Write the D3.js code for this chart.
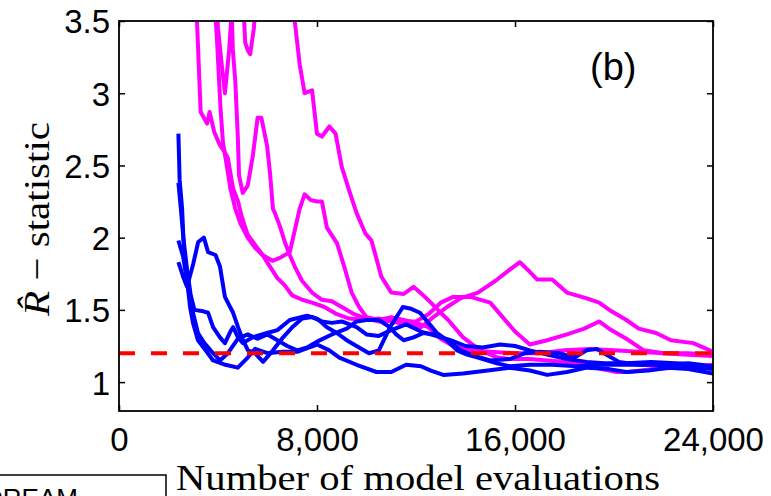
<!DOCTYPE html>
<html>
<head>
<meta charset="utf-8">
<script src="https://cdn.jsdelivr.net/npm/d3@7"></script>
<style>
  body { margin: 0; background: #fff; }
  svg { display: block; }
</style>
</head>
<body>
<svg id="chart" width="771" height="496"></svg>
<script>
// x in thousands of model evaluations, y = R-hat
var blue1 = [[2.4,2.72],[2.45,2.4],[2.55,2.2],[2.62,1.93],[2.75,1.71],[2.87,1.52],[2.99,1.41],[3.19,1.29],[3.5,1.22],[3.8,1.15],[4.3,1.12],[4.8,1.1],[5.2,1.17],[5.5,1.23],[6.0,1.2],[6.6,1.21],[7.2,1.21],[8.0,1.26],[8.5,1.22],[8.9,1.17],[9.6,1.12],[10.4,1.07],[11.0,1.07],[11.6,1.12],[12.2,1.11],[12.6,1.08],[13.1,1.05],[13.9,1.06],[14.9,1.08],[15.8,1.1],[16.6,1.08],[17.3,1.05],[18.1,1.07],[18.9,1.1],[19.8,1.09],[20.5,1.07],[21.4,1.08],[22.2,1.1],[23,1.09],[24,1.06]];
var blue2 = [[2.4,2.38],[2.5,2.2],[2.6,2.0],[2.75,1.78],[2.9,1.6],[3.05,1.5],[3.4,1.49],[3.6,1.48],[3.8,1.38],[4.08,1.31],[4.28,1.27],[4.5,1.35],[4.61,1.38],[4.81,1.31],[5.0,1.27],[5.4,1.31],[5.98,1.34],[6.4,1.36],[6.9,1.43],[7.6,1.46],[8.0,1.44],[8.4,1.38],[8.8,1.34],[9.2,1.29],[9.7,1.24],[10.1,1.2],[10.5,1.22],[10.95,1.38],[11.47,1.52],[11.76,1.51],[12.16,1.48],[12.5,1.41],[12.85,1.34],[13.25,1.29],[13.66,1.22],[14.06,1.19],[14.5,1.17],[15.27,1.13],[15.8,1.11],[16.6,1.12],[17.5,1.12],[18.5,1.11],[19.5,1.12],[20.5,1.12],[21.5,1.12],[22.5,1.11],[23.3,1.1],[24,1.09]];
var blue3 = [[2.4,1.98],[2.59,1.87],[2.8,1.64],[2.99,1.48],[3.19,1.34],[3.45,1.27],[3.7,1.22],[4.08,1.15],[4.4,1.2],[4.8,1.3],[5.2,1.33],[5.6,1.3],[6.0,1.33],[6.4,1.29],[6.8,1.25],[7.2,1.22],[7.6,1.24],[8.0,1.28],[8.6,1.33],[9.2,1.37],[9.6,1.42],[10.0,1.43],[10.5,1.43],[10.95,1.38],[11.2,1.33],[11.5,1.29],[11.9,1.31],[12.3,1.34],[12.8,1.33],[13.3,1.29],[13.8,1.22],[14.4,1.18],[15.0,1.15],[15.8,1.16],[16.4,1.2],[17.0,1.21],[17.8,1.2],[18.4,1.17],[18.9,1.22],[19.3,1.23],[19.7,1.19],[20.2,1.14],[21,1.12],[22,1.12],[23,1.13],[24,1.11]];
var blue4 = [[2.4,1.83],[2.59,1.73],[2.75,1.66],[3.0,1.82],[3.2,1.97],[3.43,2.0],[3.6,1.9],[3.9,1.88],[4.08,1.8],[4.28,1.59],[4.61,1.48],[4.81,1.38],[5.01,1.29],[5.21,1.22],[5.5,1.2],[5.82,1.14],[6.22,1.22],[6.63,1.31],[7.0,1.38],[7.4,1.44],[7.8,1.45],[8.2,1.42],[8.6,1.41],[9.0,1.42],[9.6,1.38],[10.0,1.33],[10.5,1.32],[11.0,1.36],[11.6,1.4],[12.2,1.35],[12.8,1.32],[13.4,1.29],[14.0,1.25],[14.7,1.24],[15.4,1.26],[16.0,1.25],[16.6,1.22],[17.3,1.19],[18.1,1.16],[18.9,1.14],[19.6,1.13],[20.5,1.13],[21.5,1.14],[22.5,1.13],[23.3,1.12],[24,1.1]];

var pink1 = [[2.4,4.5],[3.0,3.9],[3.15,3.5],[3.3,2.87],[3.56,2.79],[3.66,2.87],[3.85,2.73],[4.08,2.64],[4.28,2.59],[4.4,2.55],[4.61,2.34],[4.81,2.25],[4.95,2.15],[5.2,2.02],[5.5,1.95],[5.8,1.88],[6.1,1.8],[6.4,1.72],[6.7,1.67],[7.0,1.6],[7.4,1.57],[7.8,1.55],[8.3,1.52],[8.8,1.47],[9.3,1.44],[10.0,1.43],[10.5,1.44],[11.0,1.42],[11.6,1.4],[12.2,1.38],[12.7,1.45],[13.25,1.52],[13.8,1.58],[14.5,1.62],[15.2,1.7],[15.8,1.78],[16.2,1.83],[16.5,1.78],[16.9,1.71],[17.5,1.71],[18.1,1.62],[18.9,1.58],[19.4,1.55],[19.9,1.49],[20.5,1.43],[21.0,1.37],[21.7,1.34],[22.3,1.29],[23.2,1.27],[24,1.21]];
var pink2 = [[2.4,4.5],[3.9,3.7],[4.0,3.45],[4.15,3.2],[4.28,3.0],[4.45,3.3],[4.57,3.6],[4.8,3.9],[5.0,3.7],[5.1,3.35],[5.2,3.3],[5.3,3.27],[5.45,3.45],[5.55,3.7],[6.5,4.2],[6.9,3.8],[7.1,3.5],[7.3,3.2],[7.5,3.0],[7.8,3.02],[8.0,2.72],[8.2,2.7],[8.5,2.77],[8.75,2.72],[9.0,2.49],[9.33,2.31],[9.6,2.17],[9.95,2.03],[10.2,1.98],[10.6,1.73],[11.0,1.62],[11.5,1.61],[11.9,1.66],[12.3,1.6],[12.6,1.55],[13.0,1.48],[13.3,1.43],[13.9,1.31],[14.6,1.22],[15.3,1.17],[15.8,1.16],[16.6,1.16],[17.3,1.15],[18.1,1.14],[18.9,1.12],[19.5,1.09],[20.1,1.07],[20.6,1.07],[21.5,1.09],[22.5,1.1],[23.3,1.11],[24,1.12]];
var pink3 = [[2.4,4.5],[4.55,3.6],[4.6,3.3],[4.7,3.08],[4.8,2.7],[4.85,2.43],[5.0,2.31],[5.2,2.36],[5.41,2.57],[5.6,2.83],[5.75,2.83],[5.98,2.64],[6.1,2.45],[6.22,2.2],[6.3,2.17],[6.5,2.08],[6.7,1.97],[6.9,1.88],[7.1,1.8],[7.4,1.7],[7.8,1.62],[8.2,1.57],[8.6,1.56],[9.0,1.52],[9.5,1.47],[10.0,1.44],[10.5,1.42],[11.0,1.43],[11.5,1.42],[12.0,1.42],[12.5,1.47],[13.0,1.55],[13.5,1.59],[14.2,1.59],[15.0,1.55],[15.5,1.45],[16.0,1.35],[16.6,1.26],[17.3,1.29],[18.1,1.33],[18.8,1.37],[19.4,1.42],[19.8,1.37],[20.5,1.3],[21.2,1.22],[22.0,1.2],[23,1.19],[24,1.18]];
var pink4 = [[2.4,4.5],[3.8,3.8],[3.95,3.4],[4.1,2.9],[4.2,2.66],[4.4,2.45],[4.5,2.34],[4.7,2.2],[4.9,2.1],[5.2,2.0],[5.5,1.93],[5.8,1.88],[6.2,1.84],[6.5,1.86],[6.9,1.9],[7.1,2.05],[7.3,2.2],[7.5,2.3],[7.75,2.26],[8.0,2.25],[8.2,2.25],[8.4,2.07],[8.81,1.96],[9.1,1.8],[9.4,1.62],[9.7,1.52],[10.0,1.45],[10.5,1.43],[11.0,1.45],[11.5,1.43],[12.0,1.41],[12.5,1.38],[13.0,1.3],[13.5,1.25],[14.2,1.22],[15,1.21],[16,1.2],[17,1.2],[18,1.22],[19,1.23],[20,1.22],[21,1.21],[22,1.2],[23,1.2],[24,1.19]];

var blueRuns = [blue1, blue2, blue3, blue4];
var pinkRuns = [pink1, pink2, pink3, pink4];
var threshold = 1.2;

var xTicks = [0, 8000, 16000, 24000];
var yTicks = [1, 1.5, 2, 2.5, 3, 3.5];
var xLabel = "Number of model evaluations";
var panelTag = "(b)";
var legendText = "DREAM";

var svg = d3.select("#chart");
var margin = {top: 21, right: 58, bottom: 85, left: 119},
    width = 771 - margin.left - margin.right,
    height = 496 - margin.top - margin.bottom;

var x = d3.scaleLinear().domain([0, 24000]).range([margin.left, margin.left + width]);
var y = d3.scaleLinear().domain([0.8, 3.5]).range([margin.top + height, margin.top]);

svg.append("rect").attr("width", 771).attr("height", 496).attr("fill", "#fff");

svg.append("clipPath").attr("id", "plotClip")
    .append("rect")
    .attr("x", margin.left).attr("y", margin.top)
    .attr("width", width).attr("height", height);

var line = d3.line()
    .x(function(d){ return x(d[0] * 1000); })
    .y(function(d){ return y(d[1]); });

var plot = svg.append("g").attr("clip-path", "url(#plotClip)");

plot.selectAll("path.pink").data(pinkRuns).enter()
    .append("path")
    .attr("class", "pink")
    .attr("d", line)
    .attr("fill", "none")
    .attr("stroke", "#ff00ff")
    .attr("stroke-width", 4)
    .attr("stroke-linejoin", "round");

plot.selectAll("path.blue").data(blueRuns).enter()
    .append("path")
    .attr("class", "blue")
    .attr("d", line)
    .attr("fill", "none")
    .attr("stroke", "#0000ff")
    .attr("stroke-width", 4)
    .attr("stroke-linejoin", "round");

plot.append("line")
    .attr("x1", x(0)).attr("x2", x(24000))
    .attr("y1", y(threshold)).attr("y2", y(threshold))
    .attr("stroke", "#ff0000")
    .attr("stroke-width", 4)
    .attr("stroke-dasharray", "16,16");

// axes, ticks point inwards
var fontAxis = "'Liberation Sans', Arial, sans-serif";

var gx = svg.append("g")
    .attr("transform", "translate(0," + (margin.top + height) + ")")
    .call(d3.axisBottom(x).tickValues(xTicks).tickSize(-6).tickPadding(17)
        .tickFormat(d3.format(",")));
var gxTop = svg.append("g")
    .attr("transform", "translate(0," + margin.top + ")")
    .call(d3.axisTop(x).tickValues(xTicks).tickSize(-6).tickFormat(""));
var gy = svg.append("g")
    .attr("transform", "translate(" + margin.left + ",0)")
    .call(d3.axisLeft(y).tickValues(yTicks).tickSize(-6).tickPadding(9)
        .tickFormat(function(d){ return d; }));
var gyRight = svg.append("g")
    .attr("transform", "translate(" + (margin.left + width) + ",0)")
    .call(d3.axisRight(y).tickValues(yTicks).tickSize(-6).tickFormat(""));

[gx, gxTop, gy, gyRight].forEach(function(g){
    g.select(".domain").remove();
    g.selectAll("line").attr("stroke", "#000").attr("stroke-width", 1.5);
    g.selectAll("text")
        .attr("fill", "#000")
        .style("font-family", fontAxis)
        .style("font-size", "33px");
});
gy.selectAll("text").attr("dy", "0.36em");

svg.append("rect")
    .attr("x", margin.left).attr("y", margin.top)
    .attr("width", width).attr("height", height)
    .attr("fill", "none").attr("stroke", "#000").attr("stroke-width", 1.8);

// panel tag
svg.append("text")
    .attr("x", 590).attr("y", 80)
    .style("font-family", fontAxis)
    .style("font-size", "38px")
    .text(panelTag);

// axis titles
var serif = "'Liberation Serif', 'Times New Roman', serif";
var yt = svg.append("text")
    .attr("transform", "translate(49,219) rotate(-90)")
    .attr("text-anchor", "middle")
    .style("font-family", serif)
    .style("font-size", "36px")
    .attr("textLength", 194)
    .attr("lengthAdjust", "spacingAndGlyphs");
yt.append("tspan").style("font-style", "italic").text("R\u0302");
yt.append("tspan").text(" \u2212 statistic");

svg.append("text")
    .attr("x", 176).attr("y", 490)
    .style("font-family", serif)
    .style("font-size", "36px")
    .attr("textLength", 484)
    .attr("lengthAdjust", "spacingAndGlyphs")
    .text(xLabel);

// legend box (cut by the lower edge)
svg.append("rect")
    .attr("x", -4).attr("y", 475)
    .attr("width", 170).attr("height", 60)
    .attr("fill", "#fff").attr("stroke", "#000").attr("stroke-width", 1.5);
svg.append("text")
    .attr("x", -16).attr("y", 507)
    .style("font-family", fontAxis)
    .style("font-size", "26px")
    .text(legendText);
</script>
</body>
</html>
